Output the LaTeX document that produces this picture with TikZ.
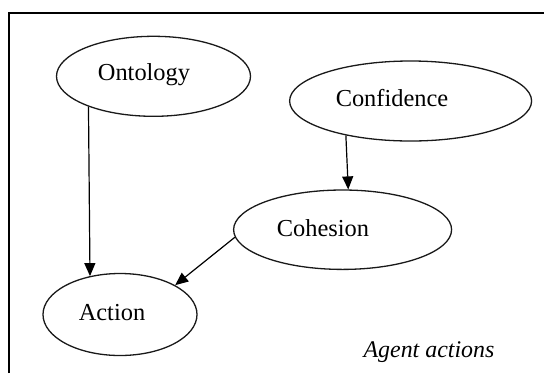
\documentclass[tikz,border=0pt]{standalone}
\usepackage{fontspec}
\setmainfont{Liberation Serif}
\usetikzlibrary{shapes.geometric,arrows.meta}
\begin{document}
\begin{tikzpicture}[x=1bp,y=-1bp,
  concept/.style={ellipse, draw=black!90, line width=1.3bp, inner sep=0pt},
  word/.style={font=\fontsize{24.5}{28}\selectfont, inner sep=0pt},
  arr/.style={draw=black, line width=1.2bp,
    -{Triangle[length=13bp,width=11bp]}},
  frame/.style={draw=black, line width=1.6bp}
]
  \useasboundingbox (0,0) rectangle (544,373);
  % open frame: left and top edges only
  \coordinate (fl) at (9,373);
  \coordinate (fc) at (9,13);
  \coordinate (fr) at (544,13);
  \draw[frame] (fl) -- (fc) -- (fr);

  % concepts
  \node[concept, minimum width=194bp, minimum height=80bp] (ont) at (153.5,76.3) {};
  \node[concept, minimum width=242bp, minimum height=80bp] (conf) at (410.6,101) {};
  \node[concept, minimum width=218bp, minimum height=79.4bp] (coh) at (342.6,229.7) {};
  \node[concept, minimum width=154bp, minimum height=82bp] (act) at (120,314.5) {};

  % concept names, set a little left of each centre
  \node[word] (ontT) at (144,75) {Ontology};
  \node[word] (confT) at (392,98.5) {Confidence};
  \node[word] (cohT) at (323,228) {Cohesion};
  \node[word] (actT) at (112,313) {Action};

  % influences
  \draw[arr] (ont.205.4) -- (act.128.4);
  \draw[arr] (conf.208.6) -- (coh.82.2);
  \draw[arr] (coh.184.5) -- (act.28.9);

  % caption
  \node[word, font=\fontsize{24}{28}\selectfont\itshape] (cap) at (429,352) {Agent actions};
\end{tikzpicture}
\end{document}
